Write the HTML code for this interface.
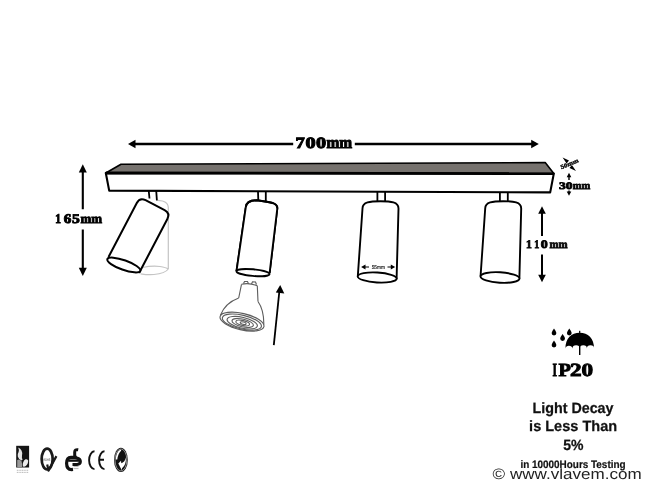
<!DOCTYPE html>
<html><head><meta charset="utf-8">
<style>
html,body{margin:0;padding:0;background:#fff;}
body{width:650px;height:488px;overflow:hidden;position:relative;}
svg{position:absolute;left:0;top:0;will-change:transform;}
text{font-family:"Liberation Sans",sans-serif;text-rendering:geometricPrecision;}
.sf{font-family:"Liberation Serif",serif;font-weight:bold;}
</style></head>
<body>
<svg width="650" height="488" viewBox="0 0 650 488">

<!-- 700mm dimension -->
<path d="M134,144 L293.2,144 M354.8,144 L532,144" stroke="#000" stroke-width="2.5" fill="none"/>
<path d="M128,144 L135.5,139.8 L135.5,148.2 z" fill="#000"/>
<path d="M538.8,144 L531.2,139.8 L531.2,148.2 z" fill="#000"/>
<text class="sf" x="295.54" y="147.50" font-size="15.80" stroke="#000" stroke-width="1.00" textLength="9.31" lengthAdjust="spacingAndGlyphs">7</text>
<text class="sf" x="305.53" y="147.50" font-size="15.80" stroke="#000" stroke-width="1.00" textLength="10.14" lengthAdjust="spacingAndGlyphs">0</text>
<text class="sf" x="316.03" y="147.50" font-size="15.80" stroke="#000" stroke-width="1.00" textLength="10.14" lengthAdjust="spacingAndGlyphs">0</text>
<text class="sf" x="326.48" y="147.50" font-size="16.80" stroke="#000" stroke-width="1.00" textLength="25.68" lengthAdjust="spacingAndGlyphs">mm</text>

<!-- bar -->
<path d="M121,164.2 L545.2,162.6 L553.8,173.6 L105.8,173 z" fill="#76726e" stroke="#000" stroke-width="1.6" stroke-linejoin="round"/>
<path d="M105.8,173 L553.8,173.6 L550.2,192.4 L109.2,190.6 z" fill="#fff" stroke="#000" stroke-width="2.1" stroke-linejoin="round"/>
<path d="M105.8,173 L553.8,173.6" stroke="#000" stroke-width="2.8"/>

<!-- 165mm dimension -->
<path d="M82.8,171 L82.8,209.3 M82.8,229.5 L82.8,269" stroke="#000" stroke-width="2.1" fill="none"/>
<path d="M82.8,164.3 L78.8,172.5 L86.8,172.5 z" fill="#000"/>
<path d="M82.8,276 L78.8,267.8 L86.8,267.8 z" fill="#000"/>
<text class="sf" x="55.14" y="222.50" font-size="13.20" stroke="#000" stroke-width="0.90" textLength="5.71" lengthAdjust="spacingAndGlyphs">1</text>
<text class="sf" x="63.74" y="222.50" font-size="13.20" stroke="#000" stroke-width="0.90" textLength="7.55" lengthAdjust="spacingAndGlyphs">6</text>
<text class="sf" x="71.93" y="222.50" font-size="13.20" stroke="#000" stroke-width="0.90" textLength="7.80" lengthAdjust="spacingAndGlyphs">5</text>
<text class="sf" x="80.50" y="222.50" font-size="13.20" stroke="#000" stroke-width="0.90" textLength="21.57" lengthAdjust="spacingAndGlyphs">mm</text>

<!-- lamp 1 ghost -->
<g fill="none" stroke="#c4c4c4" stroke-width="1.2">
  <path d="M157.9,200.3 L162.5,201 Q168.1,202.5 168.3,207.5 L168.3,269"/>
  <path d="M140.6,273.8 Q148,275 154,274.5 Q165,273.5 168.3,269"/>
  <path d="M142.5,267.5 Q152,265.5 160,266.5 Q166,267.5 168.3,269"/>
</g>
<!-- lamp 1 stem -->
<path d="M148.7,190.5 L149.5,198.5 M156.2,190.5 L156.9,200.5" stroke="#000" stroke-width="1.8" fill="none"/>
<!-- lamp 1 tilted -->
<g transform="translate(139.8,197.2) rotate(27.6)">
  <path d="M0,67.5 L0,6.5 Q0,0 6.5,0 L28,0 Q34.5,0 34.5,6.5 L34.5,67.5" fill="#fff" stroke="#000" stroke-width="2" stroke-linejoin="round"/>
  <ellipse cx="17.25" cy="67.5" rx="17.5" ry="4.8" transform="rotate(-8 17.25 67.5)" fill="#fff" stroke="#000" stroke-width="2"/>
</g>

<!-- lamp 2 -->
<path d="M258,191.5 L258.3,200.5 M265.8,191.5 L265.8,201.5" stroke="#000" stroke-width="1.8" fill="none"/>
<path d="M245.8,207.2 C246.3,201.5 251,200.3 257,200.3 L265,201.5 C272,202.5 277.8,203.5 277.3,208.5 L269.6,273 M245.8,207.2 L236.5,271.2" fill="#fff" stroke="#000" stroke-width="1.9" stroke-linejoin="round"/>
<path d="M245.8,207.2 L236.5,271.2 L269.6,274 L277.3,208.5 z" fill="#fff"/>
<path d="M245.8,207.2 C246.3,201.5 251,200.3 257,200.3 L265,201.5 C272,202.5 277.8,203.5 277.3,208.5 L269.6,273 M245.8,207.2 L236.5,271.2" fill="none" stroke="#000" stroke-width="1.9" stroke-linejoin="round"/>
<ellipse cx="253" cy="272.6" rx="16.6" ry="3.3" transform="rotate(5.2 253 272.6)" fill="#fff" stroke="#000" stroke-width="1.9"/>

<!-- lamp 3 -->
<path d="M377.4,192 L377.4,201.5 M385.1,192 L385.1,201.5" stroke="#000" stroke-width="1.8" fill="none"/>
<path d="M362.5,208.5 C362.5,202 370,201.2 380.5,201.2 C391,201.2 398.5,202 398.5,208.5 L396.6,278.5 L357.8,276.2 z" fill="#fff" stroke="#000" stroke-width="1.9" stroke-linejoin="round"/>
<ellipse cx="377.2" cy="277.5" rx="19.5" ry="5" transform="rotate(3.4 377.2 277.5)" fill="#fff" stroke="#000" stroke-width="1.9"/>
<!-- 55mm -->
<path d="M364,267 L369,267 M387.5,267 L392.5,267" stroke="#000" stroke-width="1"/>
<path d="M361.1,267 L365.5,264.6 L365.5,269.4 z M395.2,267 L390.8,264.6 L390.8,269.4 z" fill="#000"/>
<text x="371.7" y="269" font-size="5.6" fill="#111" stroke="#111" stroke-width="0.15" textLength="13.4" lengthAdjust="spacingAndGlyphs">55mm</text>

<!-- lamp 4 -->
<path d="M499.9,192 L499.9,201.5 M507.8,192 L507.8,201.5" stroke="#000" stroke-width="1.8" fill="none"/>
<path d="M485.2,208.5 C485.2,202 492.7,201.2 503.2,201.2 C513.7,201.2 521.2,202 521.2,208.5 L519.4,278.1 L480.6,275.8 z" fill="#fff" stroke="#000" stroke-width="1.9" stroke-linejoin="round"/>
<ellipse cx="500" cy="277.5" rx="19.5" ry="5.2" transform="rotate(3.4 500 277.5)" fill="#fff" stroke="#000" stroke-width="1.9"/>

<!-- 110mm dimension -->
<path d="M542,213 L542,235.9 M542,254.4 L542,275.5" stroke="#000" stroke-width="2" fill="none"/>
<path d="M542,206.3 L538.2,213.8 L545.8,213.8 z" fill="#000"/>
<path d="M542,282.2 L538.2,274.7 L545.8,274.7 z" fill="#000"/>
<text class="sf" x="525.97" y="248.20" font-size="11.60" stroke="#000" stroke-width="0.80" textLength="5.84" lengthAdjust="spacingAndGlyphs">1</text>
<text class="sf" x="534.30" y="248.20" font-size="11.60" stroke="#000" stroke-width="0.80" textLength="5.03" lengthAdjust="spacingAndGlyphs">1</text>
<text class="sf" x="540.77" y="248.20" font-size="11.60" stroke="#000" stroke-width="0.80" textLength="6.96" lengthAdjust="spacingAndGlyphs">0</text>
<text class="sf" x="549.41" y="248.20" font-size="11.60" stroke="#000" stroke-width="0.80" textLength="18.08" lengthAdjust="spacingAndGlyphs">mm</text>

<!-- 30mm / 50mm -->
<path d="M569,176.5 L569,180 M569,190.5 L569,192.5" stroke="#000" stroke-width="1.4"/>
<path d="M569,172.7 L566.7,177.2 L571.3,177.2 z M569,195.7 L566.7,191.5 L571.3,191.5 z" fill="#000"/>
<text class="sf" x="559" y="188.5" font-size="10" stroke="#000" stroke-width="0.75" textLength="13.5" lengthAdjust="spacingAndGlyphs">30</text><text class="sf" x="572.8" y="188.5" font-size="10.8" stroke="#000" stroke-width="0.75" textLength="17.5" lengthAdjust="spacingAndGlyphs">mm</text>
<path d="M562.6,157.6 L569,160.6 L566.6,163.4 z M576,171 L569.5,167.9 L571.9,165.1 z" fill="#000"/>
<text class="sf" x="0" y="0" font-size="6" stroke="#000" stroke-width="0.35" transform="translate(561.5,169.3) rotate(-23)" textLength="19" lengthAdjust="spacingAndGlyphs">50mm</text>

<!-- bulb -->
<g fill="none" stroke="#5e5e5e" stroke-width="1.12">
  <path d="M243.5,283.5 L244.5,281.5 L247.5,281.5 L248.5,283.8 M251.5,284 L252.5,281.8 L255.5,282 L256.5,284.5"/>
  <path d="M241.5,284.3 Q249,282.5 257.3,285.7"/>
  <path d="M241.5,284.3 L238.7,298 M257.3,285.7 L258,301.5"/>
  <path d="M238.7,298 Q225,303 220.3,315.5 M258,301.5 Q264,310 263.8,324.5"/>
  <g transform="translate(242,321.6) rotate(13)">
    <ellipse cx="0" cy="0" rx="22.5" ry="8.2"/>
    <ellipse cx="0" cy="0.5" rx="20" ry="6.9"/>
    <ellipse cx="0.5" cy="1" rx="15.5" ry="5.4"/>
    <ellipse cx="1" cy="1.2" rx="11" ry="3.8"/>
    <ellipse cx="1" cy="1.2" rx="7" ry="2.4"/>
    <ellipse cx="1.5" cy="1.2" rx="3" ry="1.2"/>
  </g>
</g>
<!-- up arrow -->
<path d="M273.8,345.2 L279.4,291" stroke="#000" stroke-width="1.8"/>
<path d="M280.2,285 L275.8,292.6 L284.3,293.4 z" fill="#000"/>

<!-- IP rain drops & umbrella -->
<g fill="#000">
  <path d="M554,328.4 Q556.4,331.6 556.4,333 A2.4,2.4 0 1 1 551.6,333 Q551.6,331.6 554,328.4 z"/>
  <path d="M569.3,328.4 Q571.7,331.6 571.7,333 A2.4,2.4 0 1 1 566.9,333 Q566.9,331.6 569.3,328.4 z"/>
  <path d="M562.6,334 Q565,337.2 565,338.6 A2.4,2.4 0 1 1 560.2,338.6 Q560.2,337.2 562.6,334 z"/>
  <path d="M554,340.4 Q556.4,343.6 556.4,345 A2.4,2.4 0 1 1 551.6,345 Q551.6,343.6 554,340.4 z"/>
  <path d="M565.4,348.6 C565.4,338.5 571.4,332.8 579.7,332.8 C588,332.8 594.1,338.5 594.1,348.6 A3.6,3.3 0 0 0 586.9,348.6 A3.6,3.3 0 0 0 579.7,348.6 A3.6,3.3 0 0 0 572.5,348.6 A3.6,3.3 0 0 0 565.4,348.6 z"/>
  <rect x="579.1" y="330.8" width="1.2" height="2.5"/>
</g>
<path d="M579.7,345 L579.7,355" stroke="#000" stroke-width="1.4"/>
<g class="sf" font-size="18.6" stroke="#000" stroke-width="0.9">
<text class="sf" x="552.5" y="375.5" textLength="4.5" lengthAdjust="spacingAndGlyphs">I</text>
<text class="sf" x="558.4" y="375.5" textLength="12.4" lengthAdjust="spacingAndGlyphs">P</text>
<text class="sf" x="570" y="375.5" textLength="11.6" lengthAdjust="spacingAndGlyphs">2</text>
<text class="sf" x="581.4" y="375.5" textLength="11.6" lengthAdjust="spacingAndGlyphs">0</text>
</g>

<!-- Light decay -->
<text x="532.5" y="412.6" font-size="14.9" stroke="#111" stroke-width="0.25" font-weight="bold" fill="#111" textLength="81" lengthAdjust="spacingAndGlyphs">Light Decay</text>
<text x="529.1" y="431.3" font-size="14.9" stroke="#111" stroke-width="0.25" font-weight="bold" fill="#111" textLength="88" lengthAdjust="spacingAndGlyphs">is Less Than</text>
<text x="563.2" y="450" font-size="14.9" stroke="#111" stroke-width="0.25" font-weight="bold" fill="#111" textLength="20.3" lengthAdjust="spacingAndGlyphs">5%</text>
<text x="520.4" y="467.5" font-size="10.8" stroke="#111" stroke-width="0.2" font-weight="bold" fill="#111" textLength="105.2" lengthAdjust="spacingAndGlyphs">in 10000Hours Testing</text>

<!-- watermark -->
<text x="492.6" y="478.5" font-size="15" fill="#222" textLength="149" lengthAdjust="spacingAndGlyphs">© www.vlavem.com</text>

<!-- logos -->
<rect x="16.2" y="445.8" width="12.9" height="21.7" fill="#151515"/>
<path d="M18.2,447.5 Q20.5,448.5 21.5,450.5 Q22.8,453 22,455.5 Q21.6,457.5 22.6,459.5 L21.6,460.5 Q18.5,459.5 17.8,456.5 Q17.3,454 18.6,452 Q19.4,450 18.2,447.5 z" fill="#e6e6e6"/>
<path d="M17.2,460 Q19.8,458.6 21.6,461.5 Q22.6,464.5 22,467 L17.2,467 z" fill="#9a9a9a"/>
<path d="M22.8,466.6 Q22.2,461.5 25.5,459.3 Q27.8,458.6 28.2,460.8 Q28,465.5 24.2,466.8 z" fill="#ededed"/>
<path d="M16.8,470.3 L28.6,470.3 M16.8,472.4 L28.6,472.4" stroke="#aaa" stroke-width="0.8" stroke-dasharray="1.2 0.5"/>
<ellipse cx="47.15" cy="459.1" rx="5.5" ry="10.4" fill="none" stroke="#1a1a1a" stroke-width="2.7"/>
<path d="M47.2,464.4 L48.5,470.6 L56.4,456.1" fill="none" stroke="#1a1a1a" stroke-width="2.2" stroke-linejoin="round"/>
<text x="0" y="0" font-size="3.8" font-weight="bold" fill="#777" transform="translate(43.3,460.8)" textLength="7" lengthAdjust="spacingAndGlyphs">ROHS</text>
<!-- GS -->
<path d="M76.5,457.3 L71,457.3 Q66.6,457.6 66.6,463.3 Q66.6,469.6 71.5,469.6 L73,469.4" fill="none" stroke="#111" stroke-width="3.2"/>
<path d="M68.2,460.6 L80.2,460.6" fill="none" stroke="#111" stroke-width="2.4"/>
<path d="M78.2,449.8 Q74.8,449.2 74.7,452 L74.7,455.5 Q74.9,457.8 77.5,458.3 Q80.4,459.2 80.4,461.8 Q80.3,464.3 77,464.4 L72.5,464.4" fill="none" stroke="#111" stroke-width="3"/>
<path d="M73.5,466.6 L78.5,466.6 M73.5,468.6 L78.5,468.6" stroke="#999" stroke-width="0.7"/>
<!-- CE -->
<path d="M94.5,451.3 A5.4,8.9 0 0 0 94.5,469.1" fill="none" stroke="#111" stroke-width="1.9"/>
<path d="M104.5,451.3 A5.4,8.9 0 0 0 104.5,469.1 M99.5,459.8 L104,459.8" fill="none" stroke="#111" stroke-width="1.9"/>
<!-- recycle -->
<ellipse cx="120.9" cy="459.9" rx="6.9" ry="12.1" fill="#111"/>
<ellipse cx="120.9" cy="459.9" rx="5.9" ry="11" fill="none" stroke="#fff" stroke-width="0.5"/>
<path d="M115.8,459.5 Q115.8,452 120.5,449.4 L121.3,450.6 Q118,453.5 117.3,459.5 z" fill="#fff"/>
<path d="M118.3,463.6 L121,460.8 L121.3,463.2 Q124.5,462.5 126,457.5 Q126.2,465 122,468.3 L121.8,470.2 z" fill="#fff"/>
</svg>
</body></html>
